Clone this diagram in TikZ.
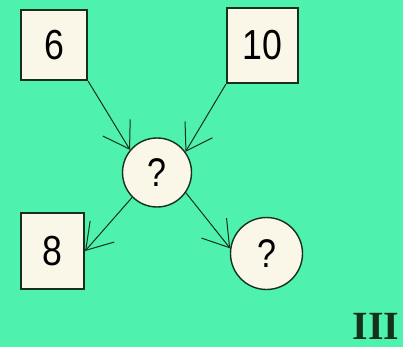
\documentclass[tikz,border=0pt]{standalone}
\usepackage{fontspec}
\usepackage{tikz}
\usetikzlibrary{arrows.meta,positioning}
\newfontfamily\diagfont[FakeStretch=0.85]{Liberation Sans}
\newfontfamily\markfont{Liberation Serif}
\definecolor{mint}{RGB}{78,242,174}
\definecolor{cream}{RGB}{250,246,232}
\definecolor{ink}{RGB}{22,48,30}

\begin{document}
\begin{tikzpicture}[x=1pt, y=-1pt,
    numbox/.style={draw=ink, line width=2.2pt, fill=cream, inner sep=0pt,
                   font=\diagfont\fontsize{42}{46}\selectfont},
    unknown/.style={circle, draw=ink, line width=1.4pt, fill=cream, inner sep=0pt,
                    font=\diagfont\fontsize{40}{44}\selectfont},
    link/.style={draw=ink, line width=1pt,
                 -{Straight Barb[length=25pt, width=32pt, line width=1pt]}}]
  \path[use as bounding box, fill=mint] (0,0) rectangle (403,347);

  \node (six) [numbox, minimum width=66pt, minimum height=70pt] at (54,45) {6};
  \node (ten) [numbox, minimum width=71pt, minimum height=75pt] at (262.5,45.5) {10};
  \node (mid) [unknown, minimum size=69pt] at (157,172.5) {?};
  \node (eight) [numbox, minimum width=63pt, minimum height=76pt] at (52.5,251) {8};
  \node (low) [unknown, minimum size=72pt] at (266.5,253.5) {?};

  \draw[link] (six.south east) -- (mid.140);
  \draw[link] (ten.south west) -- (mid.36);
  \draw[link] (mid.225) -- (eight.east);
  \draw[link] (mid.325) -- (low.172);

  \node (mark) [anchor=north, inner sep=0pt, text=ink,
                font=\markfont\bfseries\fontsize{40}{44}\selectfont] at (376,313) {III};
\end{tikzpicture}
\end{document}
